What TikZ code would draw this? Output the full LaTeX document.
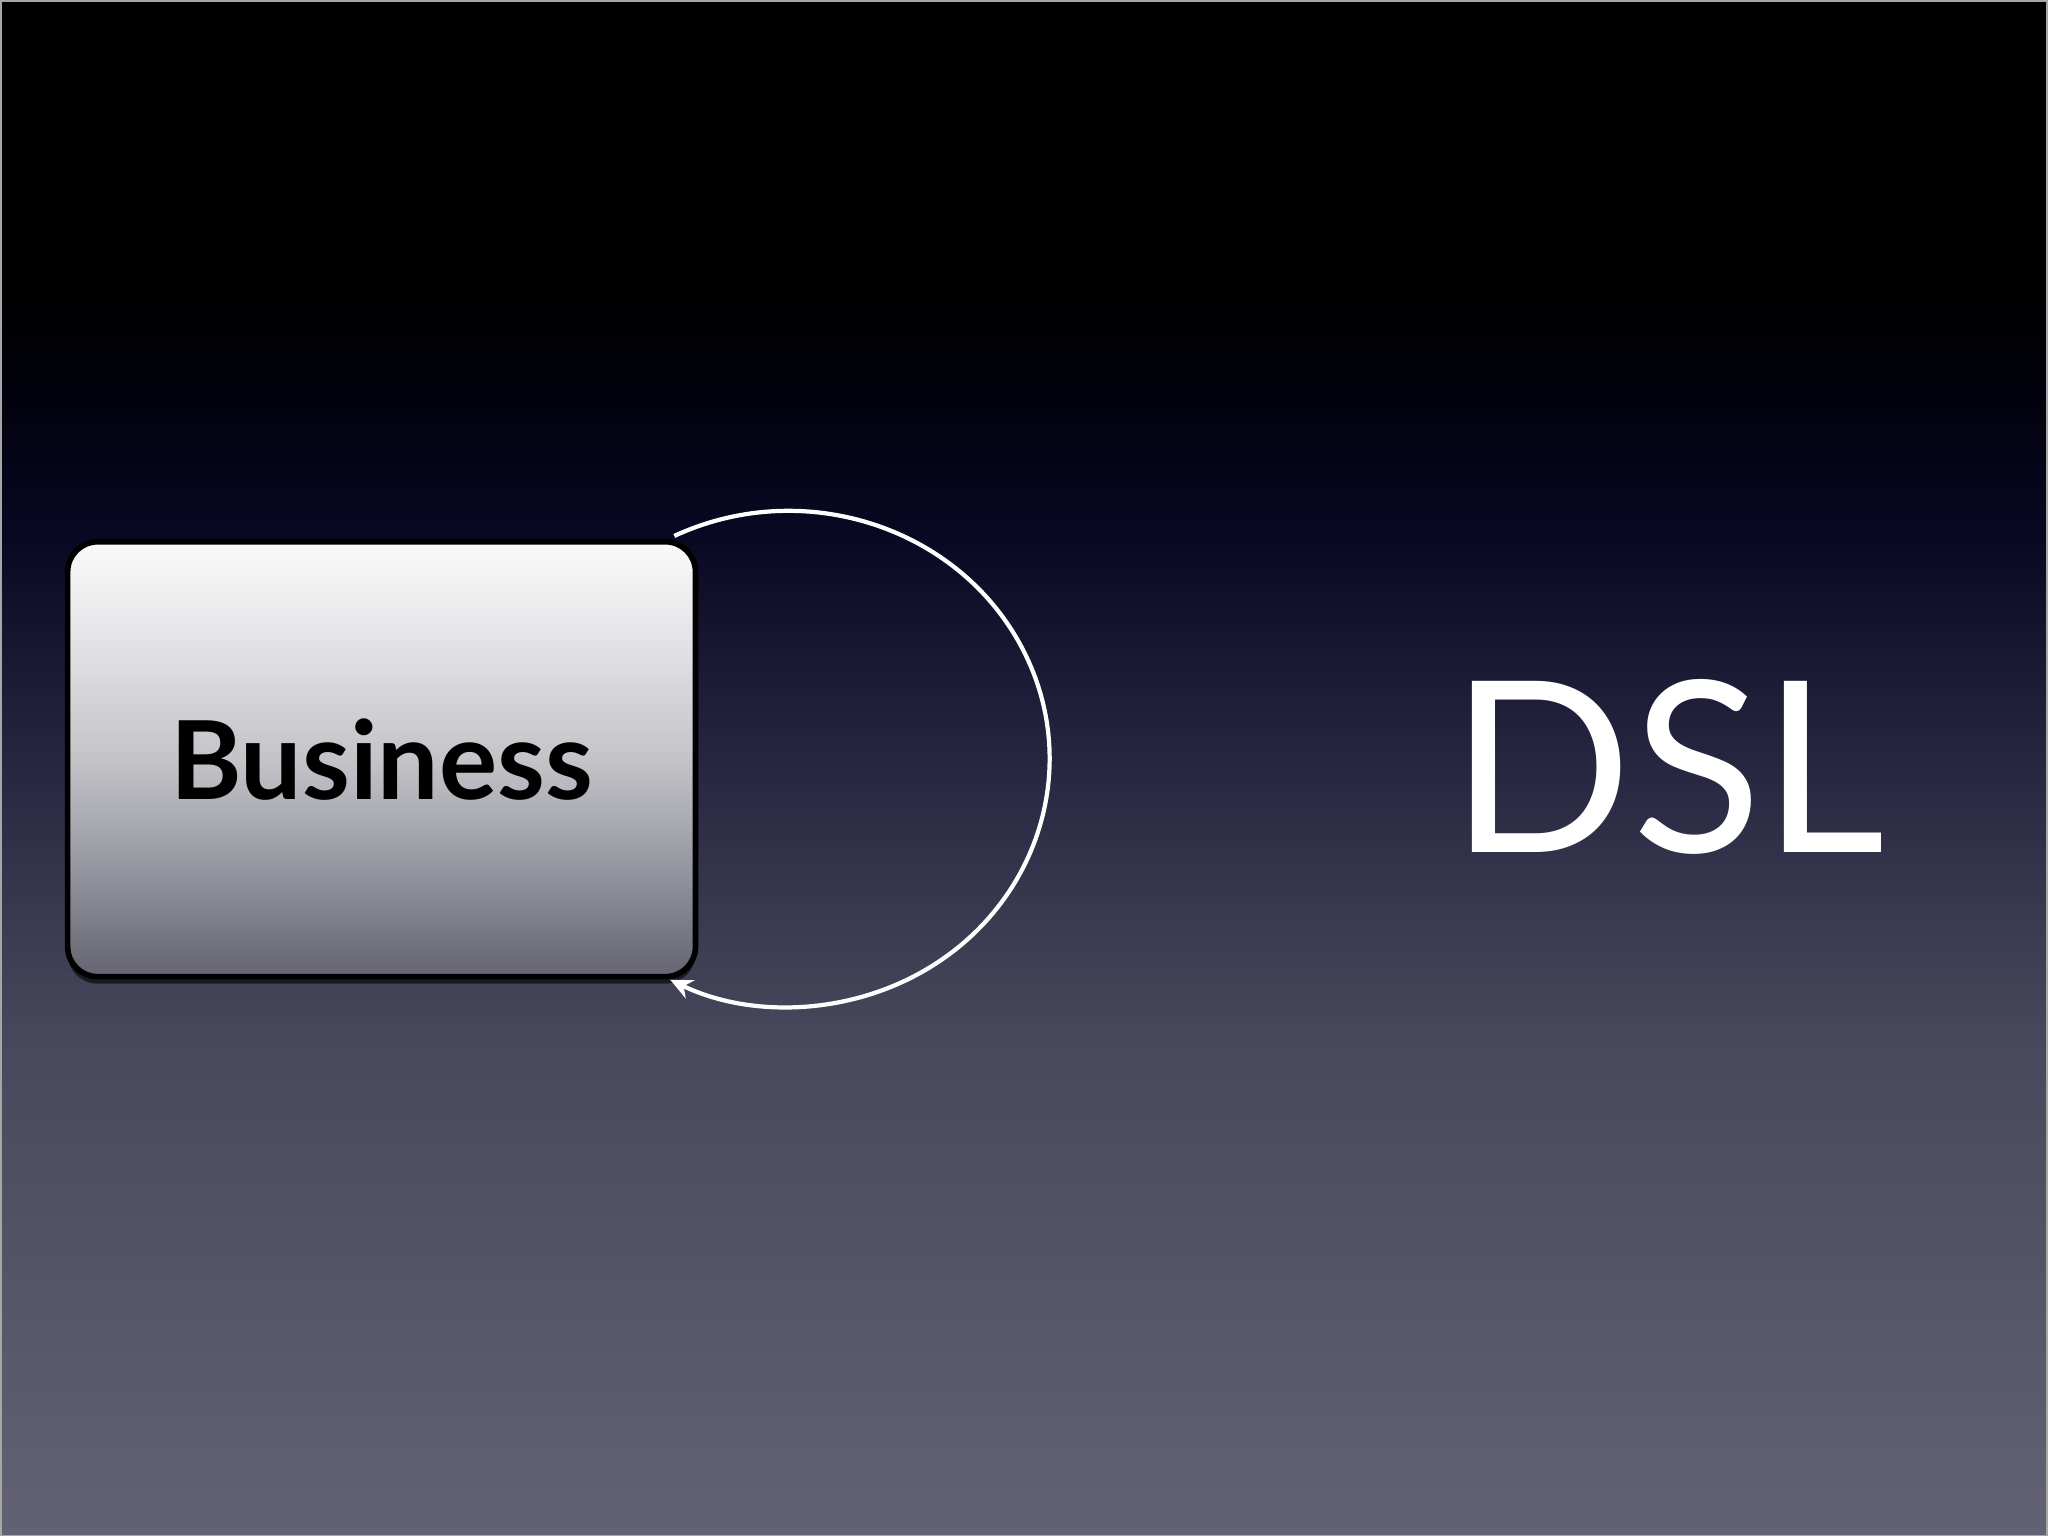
\documentclass[tikz,border=0pt]{standalone}
\usepackage{fontspec}
\setmainfont{Lato}
\usetikzlibrary{arrows.meta,shadows}

\definecolor{bgbot}{RGB}{98,98,116}
\definecolor{bglow}{RGB}{72,72,92}
\definecolor{bgmid}{RGB}{35,35,62}
\definecolor{bgup}{RGB}{8,8,35}
\definecolor{bgdark}{RGB}{1,1,12}
\definecolor{keybot}{RGB}{100,100,114}
\definecolor{keylow}{RGB}{150,150,160}
\definecolor{keymid}{RGB}{195,195,200}
\definecolor{keyup}{RGB}{225,225,228}
\definecolor{keytop}{RGB}{250,250,250}

\pgfdeclareverticalshading{slidebg}{100bp}{color(0bp)=(bgbot); color(25bp)=(bgbot);
  color(41.3bp)=(bglow); color(51bp)=(bgmid); color(57.6bp)=(bgup);
  color(62.4bp)=(bgdark); color(65.7bp)=(black); color(100bp)=(black)}
\pgfdeclareverticalshading{keyface}{100bp}{color(0bp)=(keybot); color(25bp)=(keybot);
  color(37.5bp)=(keylow); color(50bp)=(keymid); color(62.5bp)=(keyup);
  color(75bp)=(keytop); color(100bp)=(keytop)}

\tikzset{
  keybox/.style={rectangle, rounded corners=0.3cm, minimum width=6.28cm,
    minimum height=4.35cm, draw=black, line width=1.6pt, shade, shading=keyface,
    drop shadow={shadow xshift=0pt, shadow yshift=-0.07cm, opacity=0.6, fill=black},
    text=black, font=\fontsize{31}{37}\selectfont\bfseries},
  dsltext/.style={text=white, font=\fontsize{68}{80}\selectfont},
  loopline/.style={draw=white, line width=1.2pt, -{Stealth[length=0.22cm,width=0.2cm]}}
}

\begin{document}
\begin{tikzpicture}[x=0.01cm,y=0.01cm]
  \shade[shading=slidebg, draw=gray!70, line width=0.5pt] (0,0) rectangle (2048,1536);
  \useasboundingbox (0,0) rectangle (2048,1536);
  \begin{scope}[every node/.style={inner sep=0pt}]
    \node[keybox] (business) at (381,777) {Business};
    \node[dsltext] (dsl) at (1668,769) {DSL};
  \end{scope}
  \draw[loopline] ([xshift=-0.24cm,yshift=0.03cm]business.north east)
    arc[start angle=116, end angle=-117, x radius=2.61cm, y radius=2.48cm];
\end{tikzpicture}
\end{document}
